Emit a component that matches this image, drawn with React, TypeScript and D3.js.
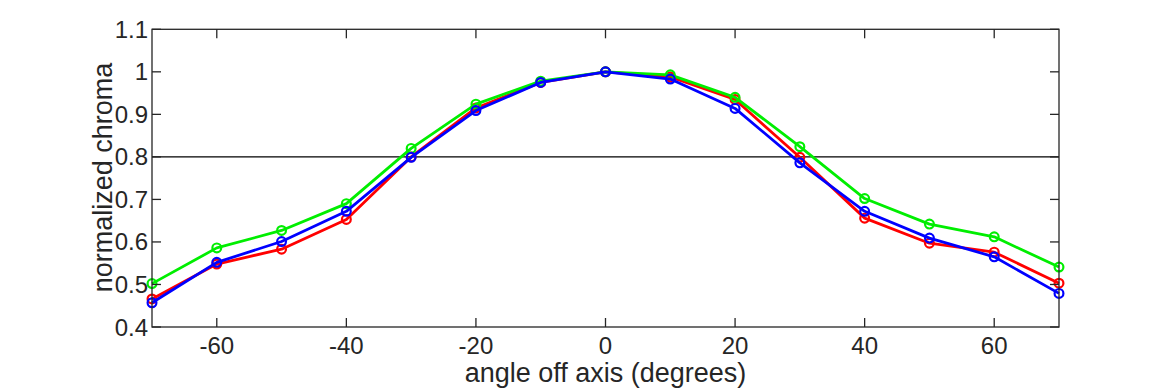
import React from "react";
import * as d3 from "d3";

const angles = [-70, -60, -50, -40, -30, -20, -10, 0, 10, 20, 30, 40, 50, 60, 70];
const redValues = [0.466, 0.548, 0.583, 0.653, 0.8, 0.915, 0.975, 1.0, 0.988, 0.935, 0.799, 0.656, 0.597, 0.576, 0.503];
const greenValues = [0.502, 0.586, 0.627, 0.69, 0.82, 0.924, 0.978, 1.0, 0.993, 0.94, 0.824, 0.702, 0.642, 0.612, 0.541];
const blueValues = [0.457, 0.552, 0.601, 0.672, 0.799, 0.909, 0.975, 1.0, 0.983, 0.914, 0.786, 0.672, 0.609, 0.565, 0.479];
const xTicks = [-60, -40, -20, 0, 20, 40, 60];
const yTicks = [0.4, 0.5, 0.6, 0.7, 0.8, 0.9, 1, 1.1];
const threshold = 0.8;

const series = [
  { name: "red", color: "#ff0000", values: redValues },
  { name: "green", color: "#00ee00", values: greenValues },
  { name: "blue", color: "#0000ff", values: blueValues },
];

export default function App() {
  const W = 1170, H = 390;
  const left = 152, right = 1059, top = 29.3, bottom = 327;
  const x = d3.scaleLinear().domain([-70, 70]).range([left, right]);
  const y = d3.scaleLinear().domain([0.4, 1.1]).range([bottom, top]);
  const line = d3.line<number>().x((_, i) => x(angles[i])).y((d) => y(d));
  const axisColor = "#262626";
  const font = "'Liberation Sans', Arial, Helvetica, sans-serif";
  const tickLen = 9;
  const fmt = (v: number) => (v === 1 ? "1" : String(+v.toFixed(1)));
  return (
    <svg width={W} height={H} style={{ position: "absolute", left: 0, top: 0, background: "#fff" }}>
      <rect x={0} y={0} width={W} height={H} fill="#fff" />
      {/* threshold line */}
      <line x1={left} x2={right} y1={y(threshold)} y2={y(threshold)} stroke="#000" strokeWidth={1.3} />
      {/* series */}
      {series.map((s) => (
        <g key={s.name}>
          <path d={line(s.values) || ""} fill="none" stroke={s.color} strokeWidth={2.8} strokeLinejoin="round" />
          {s.values.map((v, i) => (
            <circle key={i} cx={x(angles[i])} cy={y(v)} r={4.4} fill="none" stroke={s.color} strokeWidth={2.2} />
          ))}
        </g>
      ))}
      {/* frame */}
      <rect x={left} y={top} width={right - left} height={bottom - top} fill="none" stroke={axisColor} strokeWidth={1.3} />
      {/* x ticks */}
      {xTicks.map((t) => (
        <g key={"x" + t}>
          <line x1={x(t)} x2={x(t)} y1={bottom} y2={bottom - tickLen} stroke={axisColor} strokeWidth={1.3} />
          <line x1={x(t)} x2={x(t)} y1={top} y2={top + tickLen} stroke={axisColor} strokeWidth={1.3} />
          <text x={x(t)} y={353.5} textAnchor="middle" fontFamily={font} fontSize={24} fill={axisColor}>
            {t}
          </text>
        </g>
      ))}
      {/* y ticks */}
      {yTicks.map((t) => (
        <g key={"y" + t}>
          <line x1={left} x2={left + tickLen} y1={y(t)} y2={y(t)} stroke={axisColor} strokeWidth={1.3} />
          <line x1={right} x2={right - tickLen} y1={y(t)} y2={y(t)} stroke={axisColor} strokeWidth={1.3} />
          <text x={148} y={y(t) + 8.5} textAnchor="end" fontFamily={font} fontSize={24} fill={axisColor}>
            {fmt(t)}
          </text>
        </g>
      ))}
      <text x={(left + right) / 2} y={382} textAnchor="middle" fontFamily={font} fontSize={27} fill={axisColor}>
        angle off axis (degrees)
      </text>
      <text
        transform={`translate(112, 177.5) rotate(-90)`}
        textAnchor="middle"
        fontFamily={font}
        fontSize={27}
        fill={axisColor}
      >
        normalized chroma
      </text>
    </svg>
  );
}
